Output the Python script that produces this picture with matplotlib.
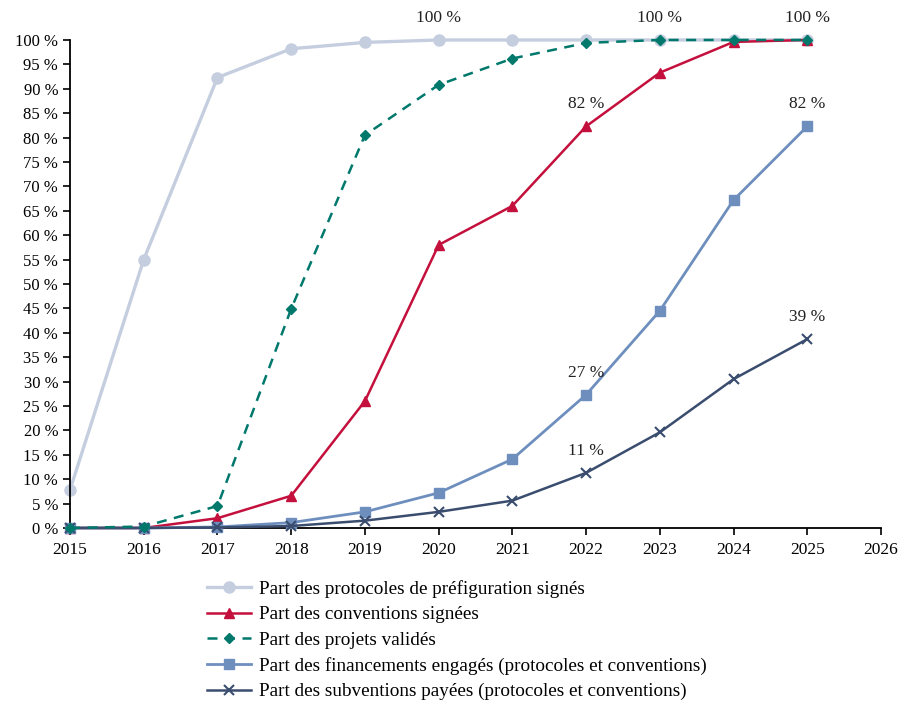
import numpy as np
import matplotlib
matplotlib.use("Agg")
import matplotlib.pyplot as plt
from matplotlib.ticker import FuncFormatter

plt.rcParams['font.family'] = ['Liberation Serif', 'DejaVu Serif']

annees = [2015, 2016, 2017, 2018, 2019, 2020, 2021, 2022, 2023, 2024, 2025]

protocoles = [7.8, 55.0, 92.3, 98.2, 99.5, 100, 100, 100, 100, 100, 100]
conventions = [0, 0, 2.0, 6.6, 26.0, 58.0, 66.0, 82.3, 93.3, 99.6, 100]
projets = [0, 0.3, 4.5, 44.9, 80.5, 90.8, 96.2, 99.4, 100, 100, 100]
financements = [0, 0, 0.2, 1.1, 3.3, 7.2, 14.1, 27.3, 44.5, 67.2, 82.3]
subventions = [0, 0, 0.1, 0.4, 1.5, 3.3, 5.6, 11.3, 19.6, 30.5, 38.7]

# etiquettes (annee, valeur, texte)
etiquettes = [(2020, 100, "100 %"), (2023, 100, "100 %"), (2025, 100, "100 %"),
              (2022, 82.3, "82 %"), (2025, 82.3, "82 %"),
              (2022, 27.3, "27 %"), (2022, 11.3, "11 %"), (2025, 38.7, "39 %")]

fig = plt.figure(figsize=(9.01, 7.05), dpi=100)
ax = fig.add_axes([0.0777, 0.2511, 0.9001, 0.6922])

ax.plot(annees, protocoles, color="#c5cedf", lw=2.4, marker="o", ms=8,
        label="Part des protocoles de préfiguration signés", clip_on=False, zorder=2)
ax.plot(annees, conventions, color="#c4103c", lw=1.8, marker="^", ms=7,
        label="Part des conventions signées", clip_on=False, zorder=3)
ax.plot(annees, projets, color="#00786c", lw=1.8, ls=(0, (4, 3)), marker="D", ms=5.5,
        label="Part des projets validés", clip_on=False, zorder=4)
ax.plot(annees, financements, color="#6e8fbe", lw=2.0, marker="s", ms=7,
        label="Part des financements engagés (protocoles et conventions)", clip_on=False, zorder=3)
ax.plot(annees, subventions, color="#3a4d6e", lw=1.8, marker="x", ms=7, mew=1.5,
        label="Part des subventions payées (protocoles et conventions)", clip_on=False, zorder=3)

for an, val, txt in etiquettes:
    ax.annotate(txt, (an, val), xytext=(0, 16), textcoords="offset points",
                ha="center", va="center", fontsize=12.5, color="#222222")

ax.set_xlim(2015, 2026)
ax.set_ylim(0, 100)
ax.set_xticks(range(2015, 2027))
ax.set_yticks(range(0, 101, 5))
ax.yaxis.set_major_formatter(FuncFormatter(lambda v, p: "%d %%" % v))
ax.tick_params(direction="out", length=5, width=1.2, color="black")
ax.tick_params(axis="y", labelsize=12)
ax.tick_params(axis="x", labelsize=12.5, pad=5)
ax.spines["top"].set_visible(False)
ax.spines["right"].set_visible(False)
ax.spines["left"].set_linewidth(1.3)
ax.spines["bottom"].set_linewidth(1.3)

fig.legend(loc="upper left", bbox_to_anchor=(0.221, 0.188), frameon=False,
           fontsize=13.8, handlelength=2.3, labelspacing=0.42, borderaxespad=0,
           handletextpad=0.4)

fig.savefig("out.png", dpi=100)
